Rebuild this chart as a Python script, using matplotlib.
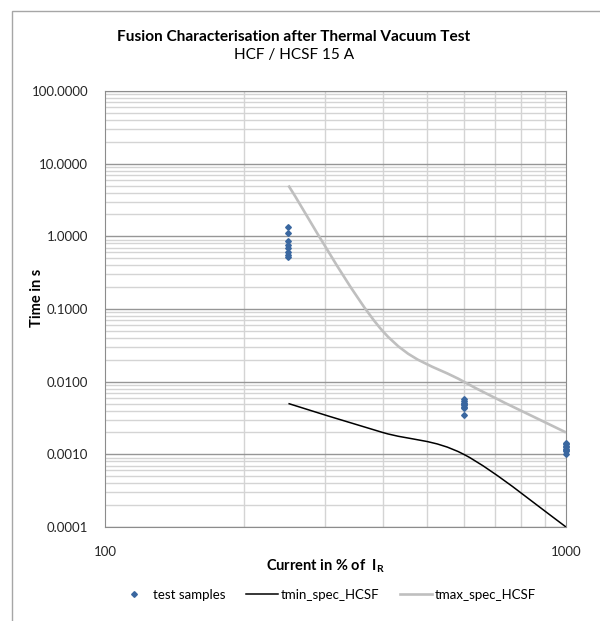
import matplotlib
matplotlib.use('Agg')
import matplotlib.pyplot as plt
import numpy as np
from matplotlib.path import Path
from matplotlib.patches import PathPatch, Rectangle
from matplotlib.lines import Line2D

plt.rcParams['font.family'] = ['Lato', 'DejaVu Sans']
plt.rcParams['mathtext.fontset'] = 'custom'
plt.rcParams['mathtext.bf'] = 'Lato:bold'
plt.rcParams['mathtext.rm'] = 'Lato'

# test samples (current in % of I_R, fusing time in s)
x_250 = [250] * 8
t_250 = [1.36, 1.10, 0.86, 0.75, 0.70, 0.60, 0.55, 0.52]
x_600 = [600] * 8
t_600 = [0.0057, 0.0054, 0.0051, 0.0049, 0.0047, 0.0045, 0.0043, 0.0035]
x_1000 = [1000] * 8
t_1000 = [0.00145, 0.0014, 0.0013, 0.00125, 0.0012, 0.00115, 0.0011, 0.0010]

# spec limits
spec_x = [250, 400, 600, 1000]
tmin_spec = [0.005, 0.002, 0.001, 0.0001]
tmax_spec = [5.0, 0.05, 0.01, 0.002]

y_ticks = [0.0001, 0.001, 0.01, 0.1, 1, 10, 100]
y_labels = ['0.0001', '0.0010', '0.0100', '0.1000', '1.0000', '10.0000', '100.0000']


def smooth_path(xs, ys):
    # Excel-like smoothed line: cubic Bezier through points, built in log space
    p = np.column_stack([np.log10(xs), np.log10(ys)])
    n = len(p)
    verts = [p[0]]
    codes = [Path.MOVETO]
    for i in range(n - 1):
        p0 = p[max(i - 1, 0)]
        p3 = p[min(i + 2, n - 1)]
        c1 = p[i] + (p[i + 1] - p0) / 6
        c2 = p[i + 1] - (p3 - p[i]) / 6
        verts += [c1, c2, p[i + 1]]
        codes += [Path.CURVE4] * 3
    return Path(10 ** np.array(verts), codes)


fig = plt.figure(figsize=(6, 6.21), dpi=100)
fig.patches.append(Rectangle((0.02, -0.1), 1.2, 1.0823, transform=fig.transFigure,
                             fill=False, edgecolor='#A6A6A6', lw=1))
ax = fig.add_axes([0.175, 0.1514, 0.7683, 0.7021])
ax.set_xscale('log')
ax.set_yscale('log')
ax.set_xlim(100, 1000)
ax.set_ylim(0.0001, 100)

ax.grid(True, which='minor', axis='both', color='#D4D4D4', lw=1)
ax.grid(True, which='major', axis='y', color='#969696', lw=1)
ax.set_axisbelow(True)
for s in ax.spines.values():
    s.set_color('#8C8C8C')

ax.set_yticks(y_ticks)
ax.set_yticklabels(y_labels)
ax.set_xticks([100, 1000])
ax.set_xticklabels(['100', '1000'])
ax.tick_params(which='both', length=0, labelsize=9.5, colors='#262626')
ax.tick_params(axis='x', pad=14)
ax.tick_params(axis='y', pad=12)
ax.xaxis.set_minor_formatter(plt.NullFormatter())
ax.yaxis.set_minor_formatter(plt.NullFormatter())

ax.add_patch(PathPatch(smooth_path(spec_x, tmax_spec), fill=False, edgecolor='#BFBFBF', lw=1.9,
                       capstyle='butt', zorder=3))
ax.add_patch(PathPatch(smooth_path(spec_x, tmin_spec), fill=False, edgecolor='black', lw=1.1,
                       capstyle='butt', zorder=3))

col = '#3A67A0'
for xs, ts in [(x_250, t_250), (x_600, t_600), (x_1000, t_1000)]:
    ax.plot(xs, ts, 'D', color=col, ms=2.9, mec=col, zorder=4, clip_on=False)

fig.text(0.49, 1 - 37 / 621, 'Fusion Characterisation after Thermal Vacuum Test', ha='center',
         va='center', fontsize=11.1, fontweight='bold')
fig.text(0.49, 1 - 55.5 / 621, 'HCF / HCSF 15 A', ha='center', va='center', fontsize=11.1)

fig.text(0.543, 1 - 566 / 621, r'Current in % of  $\mathbf{I_R}$', ha='center', va='center',
         fontsize=10.5, fontweight='bold')
fig.text(0.062, 1 - 298 / 621, 'Time in s', ha='center', va='center', rotation=90,
         fontsize=10.5, fontweight='bold')

handles = [Line2D([], [], ls='none', marker='D', color=col, ms=2.9),
           Line2D([], [], color='black', lw=1.1),
           Line2D([], [], color='#BFBFBF', lw=1.9)]
fig.legend(handles, ['test samples', 'tmin_spec_HCSF', 'tmax_spec_HCSF'], loc='center',
           bbox_to_anchor=(0.545, 1 - 595 / 621), ncol=3, frameon=False, fontsize=9.5,
           handlelength=2.4, columnspacing=1.6, handletextpad=0.2, numpoints=1)

fig.savefig('out.png', dpi=100)
